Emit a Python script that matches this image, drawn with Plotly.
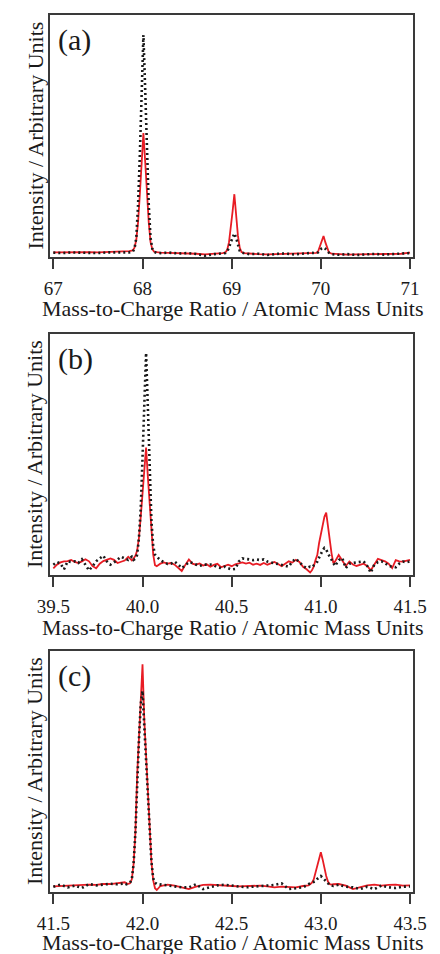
import plotly.graph_objects as go

# ---------------- data ----------------
# (a) m/z 67-71
xa = [67.00, 67.10, 67.20, 67.30, 67.40, 67.50, 67.60, 67.70, 67.80, 67.85,
      67.89, 67.91, 67.93, 67.95, 67.97, 67.99, 68.01, 68.03, 68.05, 68.07, 68.09, 68.11, 68.13, 68.16,
      68.20, 68.30, 68.40, 68.50, 68.60, 68.70, 68.80, 68.90,
      68.93, 68.95, 68.97, 68.99, 69.01, 69.03, 69.05, 69.07, 69.09, 69.11, 69.14,
      69.20, 69.30, 69.40, 69.50, 69.60, 69.70, 69.80, 69.90,
      69.95, 69.97, 69.99, 70.01, 70.03, 70.05, 70.07, 70.09, 70.12,
      70.20, 70.30, 70.40, 70.50, 70.60, 70.70, 70.80, 70.90, 71.00]
red_a = [0.3, 0.4, 0.2, 0.3, 0.4, 0.3, 0.5, 0.4, 0.6, 0.9,
         1.2, 2.5, 6, 14, 27, 42, 55, 42, 27, 14, 5, 1.8, 0.6, 0.3,
         0.2, 0.1, 0.0, 0.0, -0.3, -0.6, -0.4, 0.0,
         0.3, 1.5, 5, 11, 19, 27, 17, 8, 2.5, 0.5, 0.0,
         -0.3, -0.5, -0.6, -0.5, -0.4, -0.3, -0.1, 0.0,
         0.1, 0.8, 3, 5.5, 7.8, 5, 2, 0.3, -0.3,
         -0.6, -0.7, -0.6, -0.5, -0.6, -0.5, -0.4, -0.3, 0.2]
dot_a = [0.2, 0.0, 0.3, 0.1, 0.2, 0.0, 0.3, 0.2, 0.4, 0.3,
         0.6, 2, 7, 22, 45, 75, 100, 75, 45, 22, 7, 2, 0.5, 0.1,
         0.0, 0.2, -0.2, 0.0, -0.4, -1.2, -0.5, -0.2,
         0.0, 0.8, 2.5, 5, 7.5, 9, 7, 3.5, 1, 0.2, 0.0,
         -0.5, -0.3, -0.9, -0.4, -0.2, -0.6, -0.2, 0.1,
         0.0, 0.3, 1.2, 2.2, 2.5, 2.0, 1.0, 0.2, -0.5,
         -0.8, -0.5, -0.9, -0.6, -0.4, -0.7, -0.5, -0.3, 0.0]
ticks_a = [67, 68, 69, 70, 71]
labels_a = ["67", "68", "69", "70", "71"]

# (b) m/z 39.5-41.5
xb = [39.50, 39.52, 39.54, 39.56, 39.58, 39.60, 39.62, 39.64, 39.66, 39.68,
      39.70, 39.72, 39.74, 39.76, 39.78, 39.80, 39.82, 39.84, 39.86, 39.88,
      39.90, 39.92, 39.94,
      39.95, 39.96, 39.97, 39.98, 39.99, 40.00, 40.01, 40.02, 40.03, 40.04,
      40.05, 40.06, 40.07, 40.08,
      40.10, 40.12, 40.14, 40.16, 40.18, 40.20, 40.22, 40.24, 40.26, 40.28,
      40.30, 40.32, 40.34, 40.36, 40.38, 40.40, 40.42, 40.44, 40.46, 40.48,
      40.50, 40.52, 40.54, 40.56, 40.58, 40.60, 40.62, 40.64, 40.66, 40.68,
      40.70, 40.72, 40.74, 40.76, 40.78, 40.80, 40.82, 40.84, 40.86, 40.88,
      40.90, 40.92, 40.94,
      40.95, 40.96, 40.97, 40.98, 40.99, 41.00, 41.01, 41.02, 41.03, 41.04,
      41.05, 41.06, 41.07,
      41.08, 41.10, 41.12, 41.14, 41.16, 41.18, 41.20, 41.22, 41.24, 41.26,
      41.28, 41.30, 41.32, 41.34, 41.36, 41.38, 41.40, 41.42, 41.44, 41.46,
      41.48, 41.50]
red_b = [-2.5, -0.8, 0.3, 0.8, 0.9, 1.5, 0.5, 0.0, 0.8, 1.8,
         0.8, -1.5, -2.5, -0.3, 0.9, 1.5, 2.2, 1.5, 0.0, 0.6,
         1.2, 3.0, 1.2,
         2.2, 3.5, 6, 12, 22, 34, 46, 55, 41, 27,
         14, 4, -1.0, -1.5,
         -0.3, 0.3, -0.3, 0.0, -0.8, -2.1, -3.8, -0.9, 1.7, -0.3,
         -0.8, -0.2, -1.2, -0.6, -1.8, -0.9, -0.4, -2.0, -1.5, -0.8,
         -1.5, -0.6, -0.2, 0.3, -0.3, 0.2, -0.8, -0.3, -0.9, 0.0,
         -0.8, -0.2, 0.5, -0.5, -1.5, -0.3, 0.8, 0.2, 1.5, 0.5,
         -1.8, -3.0, -4.5,
         -3.5, -1.7, 1.4, 3.8, 9.4, 14, 19, 22, 24, 17,
         11, 4.6, 0.0,
         0.8, 3.8, 1.5, -1.4, 0.7, -0.7, -1.4, -0.7, -0.3, -1.4,
         -3.5, -0.7, 2.0, 1.4, 0.8, -0.3, -2.4, 1.4, 0.8, 0.7,
         1.1, 1.5]
dot_b = [-0.8, 0.5, -0.3, -3.0, 0.8, 0.5, 0.8, 0.0, 1.8, -0.8,
         -3.5, -1.5, 0.8, 2.2, 3.5, 0.8, -0.8, 0.3, 1.5, 3.0,
         2.2, 1.5, 3.0,
         1.5, 2.0, 4, 12, 26, 50, 80, 100, 74, 44,
         20, 8, 4, 3,
         1.4, 0.4, -0.4, -0.3, 0.7, -0.7, -2.4, -1.1, 0.4, 0.0,
         -0.7, -1.4, -0.8, -0.8, -0.7, -1.1, -2.1, -2.4, -1.7, -2.5,
         -3.1, -2.8, 0.7, 2.2, 1.8, 1.7, 1.4, 1.7, 1.4, 1.7,
         0.7, 0.3, 0.0, -0.4, -0.7, -1.1, -1.7, 0.7, 2.0, 0.4,
         -1.4, -2.4, -1.7,
         -2.0, -1.0, 0.0, 0.6, 2.5, 4.6, 6.0, 7.2, 6.5, 4.5,
         3.0, 1.0, -0.3,
         -1.4, 1.4, 2.4, -2.4, -0.3, 0.0, 0.3, 0.6, 0.8, -1.4,
         -4.6, -0.7, 0.4, 0.8, 0.0, -1.4, -1.7, -2.0, -0.3, 0.7,
         0.4, 0.8]
ticks_b = [39.5, 40.0, 40.5, 41.0, 41.5]
labels_b = ["39.5", "40.0", "40.5", "41.0", "41.5"]

# (c) m/z 41.5-43.5
xc = [41.50, 41.54, 41.58, 41.62, 41.66, 41.70, 41.74, 41.78, 41.82, 41.86, 41.90,
      41.91, 41.92, 41.93, 41.94, 41.95, 41.96, 41.97, 41.98, 41.99, 42.00,
      42.01, 42.02, 42.03, 42.04, 42.05, 42.06, 42.07, 42.08, 42.09, 42.10,
      42.14, 42.18, 42.22, 42.26, 42.30, 42.34, 42.38, 42.42, 42.46, 42.50,
      42.54, 42.58, 42.62, 42.66, 42.70, 42.74, 42.78, 42.82, 42.86, 42.90,
      42.93, 42.94, 42.95, 42.96, 42.97, 42.98, 42.99, 43.00, 43.01, 43.02,
      43.03, 43.04, 43.05, 43.06, 43.07,
      43.10, 43.14, 43.18, 43.22, 43.26, 43.30, 43.34, 43.38, 43.42, 43.46, 43.50]
red_c = [-0.2, 0.0, 0.2, 0.2, 0.5, 0.6, 0.5, 0.9, 0.9, 1.2, 1.7,
         1.2, 1.0, 1.2, 3, 10, 24, 50, 68, 86, 100,
         75, 58, 42, 25, 11, 2.5, -1.0, -1.8, -1.0, 0.0,
         0.6, 0.2, -0.6, -1.4, -0.3, 0.5, 0.6, 0.3, 0.2, 0.0,
         -0.2, 0.0, 0.2, 0.2, -0.2, -0.6, -0.3, -0.6, -0.6, 0.0,
         0.3, 0.8, 1.5, 3, 6, 9, 12.5, 15.2, 12, 8,
         4.5, 2, 0.8, 0.6, 0.8,
         0.9, 0.2, -1.4, -0.6, 0.3, 0.6, 0.2, 0.5, 0.6, 0.2, 0.3]
dot_c = [-0.3, 0.6, -0.6, 0.2, -0.9, 0.9, 0.3, 0.6, 1.0, 0.8, 1.2,
         0.8, 1.0, 1.5, 3, 10, 24, 48, 66, 82, 88,
         72, 56, 40, 24, 11, 3.5, 1.5, 0.9, 0.8, 0.5,
         0.2, 0.0, -0.6, -0.6, 0.8, -1.4, -0.6, 0.3, 0.6, 0.2,
         0.0, -0.6, -0.3, -0.2, 0.2, 0.5, 1.2, -1.4, -0.9, -0.6,
         0.8, 1.2, 1.5, 1.8, 2.2, 3.2, 4.0, 4.5, 3.8, 3.0,
         2.0, 1.0, 0.4, 0.2, 0.0,
         0.6, -0.3, -0.6, -1.4, -0.3, -1.4, 0.2, -0.6, -0.9, -0.3, -0.2]
ticks_c = [41.5, 42.0, 42.5, 43.0, 43.5]
labels_c = ["41.5", "42.0", "42.5", "43.0", "43.5"]

panel_tags = ["(a)", "(b)", "(c)"]
x_title = "Mass-to-Charge Ratio / Atomic Mass Units"
y_title = "Intensity / Arbitrary Units"

for xs, r, d in ((xa, red_a, dot_a), (xb, red_b, dot_b), (xc, red_c, dot_c)):
    assert len(xs) == len(r) == len(d), (len(xs), len(r), len(d))

# ---------------- styling ----------------
W, H = 440, 954
FONT = "Liberation Serif"
RED = "#e81c24"
INK = "#1a1a1a"
FRAME = "#3a3a3a"

# pixel boxes of the three panels: (top, bottom), shared left/right
LEFT, RIGHT = 39, 426
boxes = [(15, 257), (334, 575), (651, 892)]
xranges = [[66.958, 71.032], [39.479, 41.516], [41.479, 43.516]]
yranges = [[-1.8, 109.2], [-5.7, 109.0], [-2.7, 106.0]]
title_y = [308, 627, 942]

fig = go.Figure()
series = [(xa, red_a, dot_a), (xb, red_b, dot_b), (xc, red_c, dot_c)]
ticks = [(ticks_a, labels_a), (ticks_b, labels_b), (ticks_c, labels_c)]

annotations = []
for i, (xs, r, d) in enumerate(series):
    sfx = "" if i == 0 else str(i + 1)
    fig.add_trace(go.Scatter(x=xs, y=r, mode="lines", xaxis="x" + sfx, yaxis="y" + sfx,
                             line=dict(color=RED, width=1.8), showlegend=False,
                             hoverinfo="skip"))
    fig.add_trace(go.Scatter(x=xs, y=d, mode="lines", xaxis="x" + sfx, yaxis="y" + sfx,
                             line=dict(color=INK, width=2.6, dash="2px,3px"),
                             showlegend=False, hoverinfo="skip"))

    top, bot = boxes[i]
    tv, tt = ticks[i]
    fig.layout["xaxis" + sfx] = dict(
        domain=[LEFT / W, RIGHT / W], anchor="y" + sfx, range=xranges[i],
        tickmode="array", tickvals=tv, ticktext=tt,
        ticks="outside", ticklen=10, tickwidth=1.5, tickcolor=FRAME,
        ticklabelstandoff=3,
        showline=True, linewidth=1.5, linecolor=FRAME, mirror=True,
        showgrid=False, zeroline=False,
        tickfont=dict(family=FONT, size=19, color=INK),
    )
    fig.layout["yaxis" + sfx] = dict(
        domain=[1 - bot / H, 1 - top / H], anchor="x" + sfx, range=yranges[i],
        showticklabels=False, ticks="",
        showline=True, linewidth=1.5, linecolor=FRAME, mirror=True,
        showgrid=False, zeroline=False,
    )
    annotations.append(dict(text=panel_tags[i], xref="paper", yref="paper",
                            x=46 / W, y=1 - (top + 25) / H, xanchor="left", yanchor="middle",
                            showarrow=False, font=dict(family=FONT, size=30, color=INK)))
    annotations.append(dict(text=y_title, xref="paper", yref="paper", textangle=-90,
                            x=23 / W, y=1 - (top + bot) / 2 / H, xanchor="center", yanchor="middle",
                            showarrow=False, font=dict(family=FONT, size=22, color=INK)))
    annotations.append(dict(text=x_title, xref="paper", yref="paper",
                            x=234 / W, y=1 - title_y[i] / H, xanchor="center", yanchor="middle",
                            showarrow=False, font=dict(family=FONT, size=22, color=INK)))

fig.update_layout(width=W, height=H, margin=dict(l=0, r=0, t=0, b=0),
                  paper_bgcolor="white", plot_bgcolor="white",
                  annotations=annotations)

fig.write_html("out.html")
